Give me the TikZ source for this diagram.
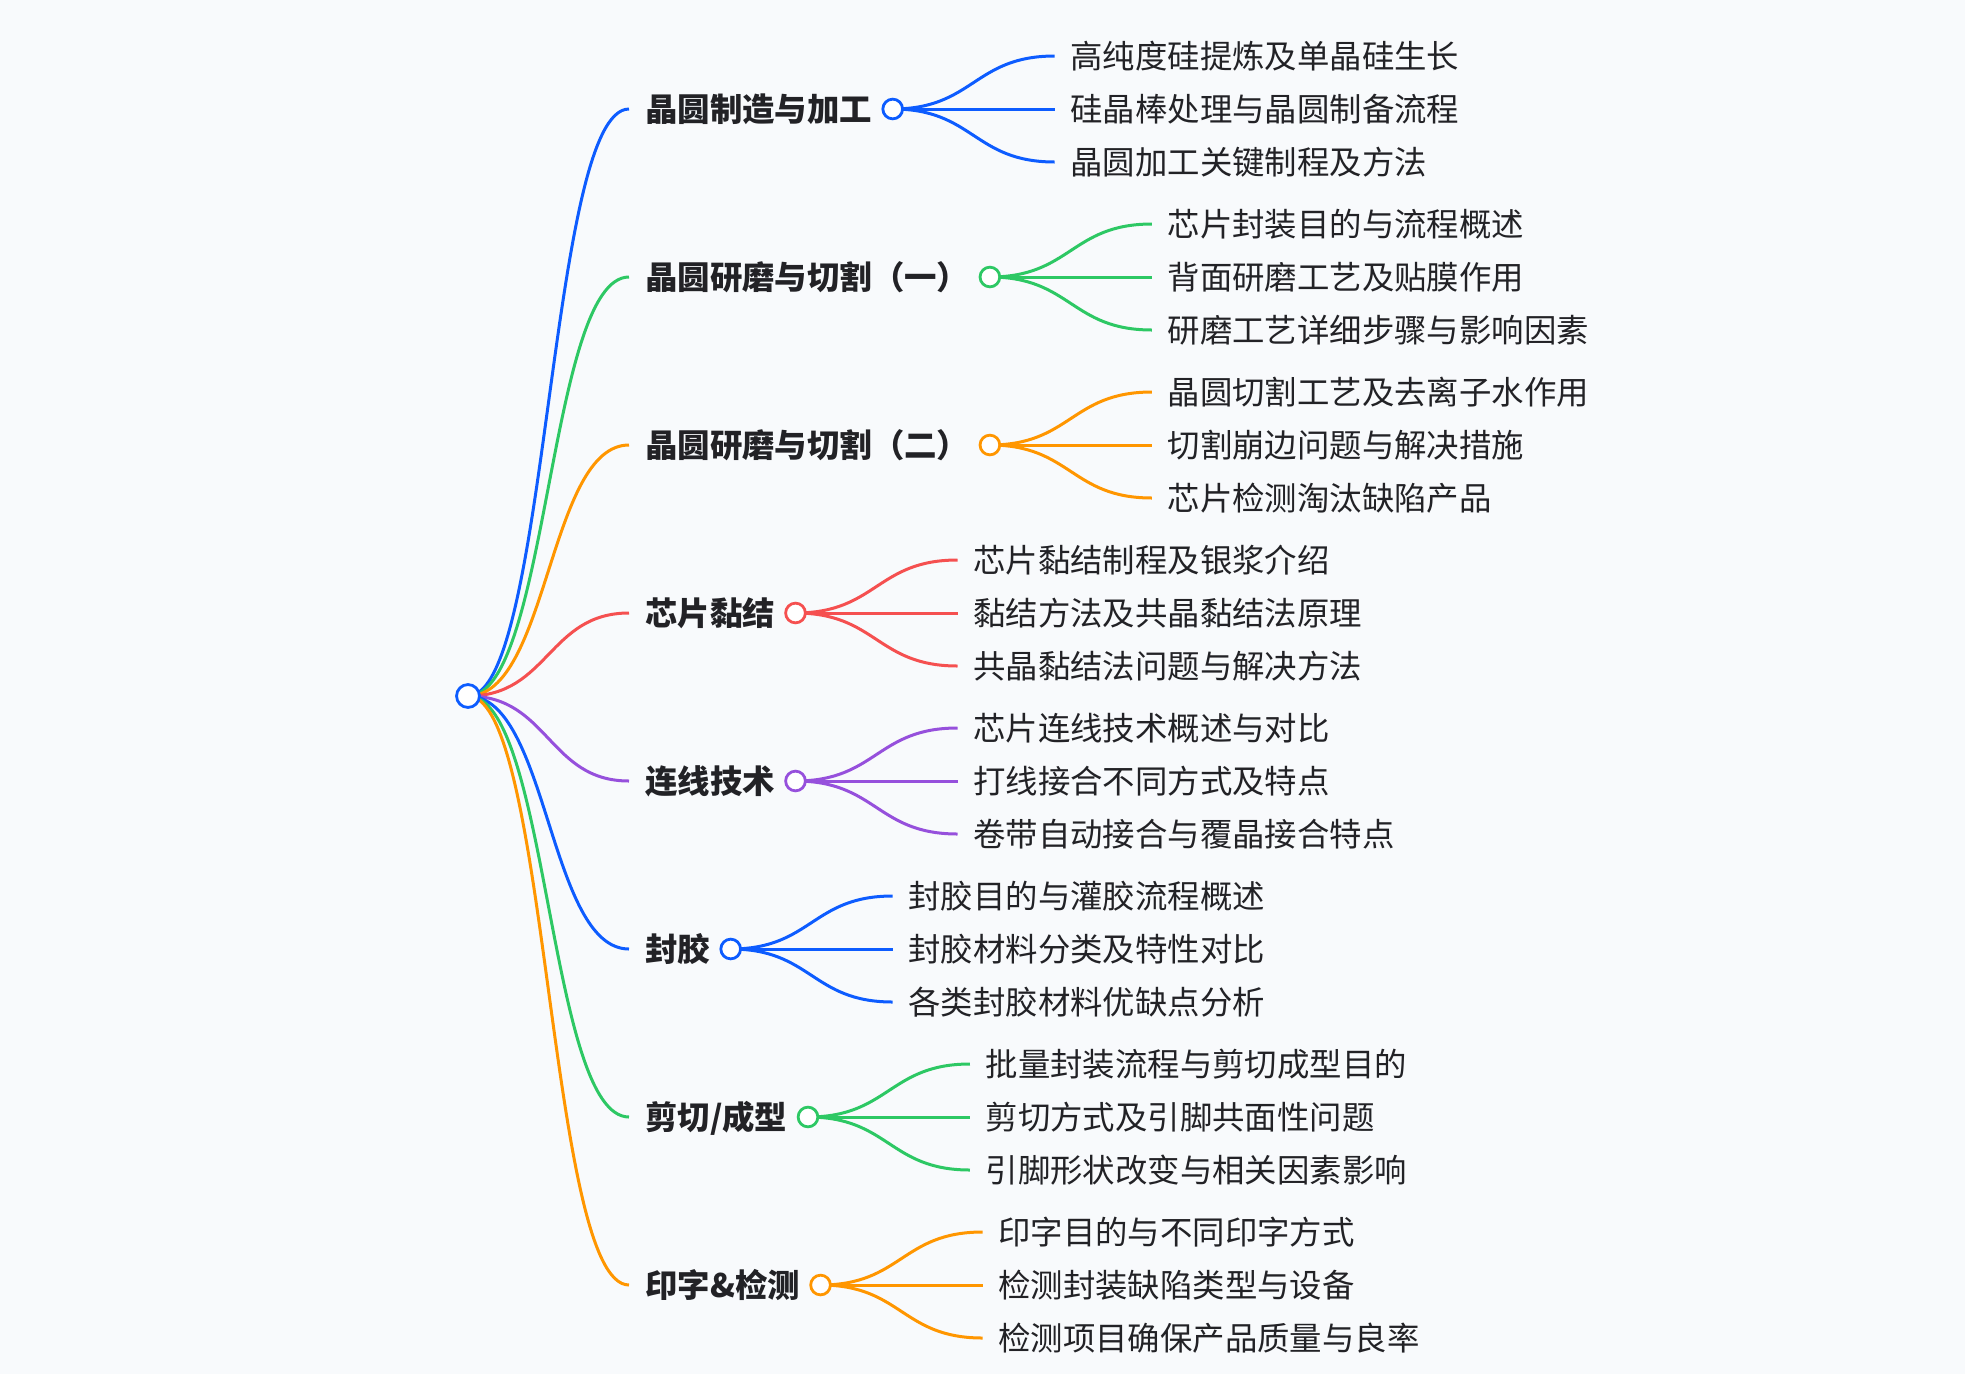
\documentclass[tikz,border=0pt]{standalone}
\usepackage{fontspec}
\setmainfont{Noto Sans CJK SC}
\usetikzlibrary{calc}
\definecolor{mblue}{RGB}{13,92,255}
\definecolor{mgreen}{RGB}{45,200,100}
\definecolor{morange}{RGB}{255,150,0}
\definecolor{mred}{RGB}{245,80,80}
\definecolor{mpurple}{RGB}{150,80,220}
\definecolor{txt}{RGB}{34,34,38}
\definecolor{bgc}{RGB}{248,250,252}
\pgfdeclarelayer{back}
\pgfdeclarelayer{links}
\pgfsetlayers{back,links,main}
\tikzset{
  link/.style={line width=3pt},
  dot/.style={circle, fill=white, line width=2.8pt, inner sep=0pt, minimum size=19.7pt},
  rootdot/.style={dot, minimum size=22.9pt},
  lone/.style={font=\fontsize{32.4}{38}\selectfont\bfseries, text=txt, inner sep=0pt, text height=28.5pt, text depth=3.9pt, anchor=west},
  ltwo/.style={font=\fontsize{32.4}{38}\selectfont, text=txt, inner sep=0pt, text height=28.5pt, text depth=3.9pt, anchor=west},
}
\newcommand\mmlink[3]{\draw[link,#3] let \p1=(#1), \p2=(#2) in (\p1) .. controls ({(\x1+\x2)/2},\y1) and ({(\x1+\x2)/2},\y2) .. (\p2);}
\newcommand\mmbranch[7]{%
  \coordinate (#1e) at (629,#2);
  \node[lone] (#1t) at (645,#2) {#4};
  \node[dot, draw=#3] (#1c) at ($(#1t.east)+(20.5,0)$) {};
  \coordinate (#1ae) at ($(#1c.center)+(162,-53)$);
  \coordinate (#1be) at ($(#1c.center)+(162,0)$);
  \coordinate (#1ce) at ($(#1c.center)+(162,53)$);
  \node[ltwo] (#1a) at ($(#1ae)+(15.5,0)$) {#5};
  \node[ltwo] (#1b) at ($(#1be)+(15.5,0)$) {#6};
  \node[ltwo] (#1x) at ($(#1ce)+(15.5,0)$) {#7};
  \begin{pgfonlayer}{links}
    \mmlink{root.center}{#1e}{#3}
    \mmlink{#1c.center}{#1ae}{#3}
    \mmlink{#1c.center}{#1be}{#3}
    \mmlink{#1c.center}{#1ce}{#3}
  \end{pgfonlayer}
}
\begin{document}
\begin{tikzpicture}[x=1pt,y=-1pt]
\begin{pgfonlayer}{back}
  \fill[bgc] (0,0) rectangle (1965,1374);
\end{pgfonlayer}
\useasboundingbox (0,0) rectangle (1965,1374);
\node[rootdot, draw=mblue] (root) at (468,696) {};
\mmbranch{n1}{109}{mblue}{晶圆制造与加工}{高纯度硅提炼及单晶硅生长}{硅晶棒处理与晶圆制备流程}{晶圆加工关键制程及方法}
\mmbranch{n2}{277}{mgreen}{晶圆研磨与切割（一）}{芯片封装目的与流程概述}{背面研磨工艺及贴膜作用}{研磨工艺详细步骤与影响因素}
\mmbranch{n3}{445}{morange}{晶圆研磨与切割（二）}{晶圆切割工艺及去离子水作用}{切割崩边问题与解决措施}{芯片检测淘汰缺陷产品}
\mmbranch{n4}{613}{mred}{芯片黏结}{芯片黏结制程及银浆介绍}{黏结方法及共晶黏结法原理}{共晶黏结法问题与解决方法}
\mmbranch{n5}{781}{mpurple}{连线技术}{芯片连线技术概述与对比}{打线接合不同方式及特点}{卷带自动接合与覆晶接合特点}
\mmbranch{n6}{949}{mblue}{封胶}{封胶目的与灌胶流程概述}{封胶材料分类及特性对比}{各类封胶材料优缺点分析}
\mmbranch{n7}{1117}{mgreen}{剪切/成型}{批量封装流程与剪切成型目的}{剪切方式及引脚共面性问题}{引脚形状改变与相关因素影响}
\mmbranch{n8}{1285}{morange}{印字\&检测}{印字目的与不同印字方式}{检测封装缺陷类型与设备}{检测项目确保产品质量与良率}
\end{tikzpicture}
\end{document}
